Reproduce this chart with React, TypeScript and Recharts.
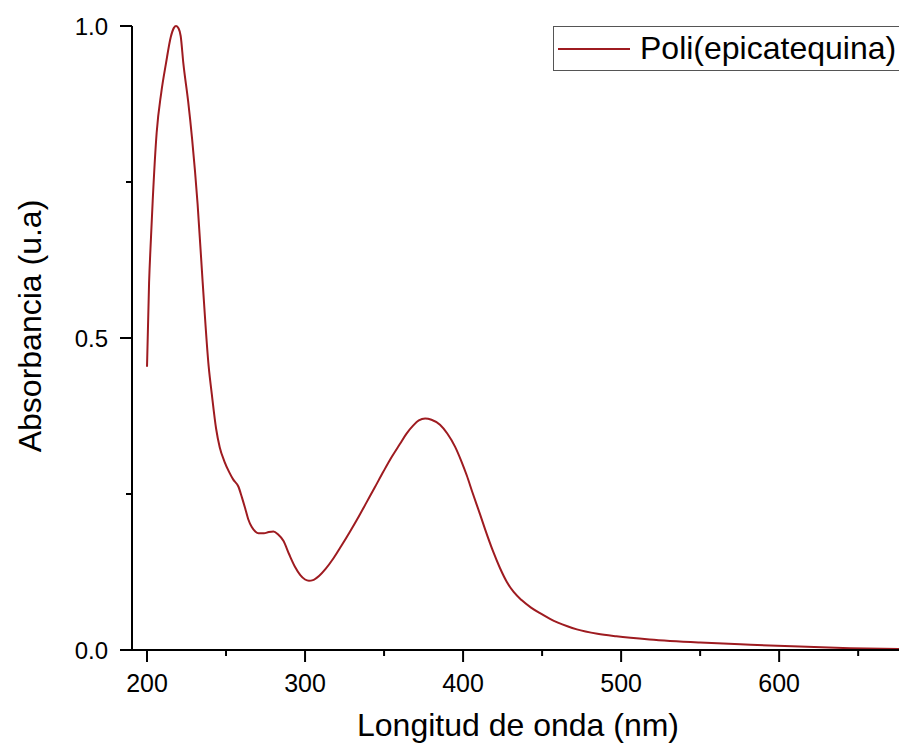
import { LineChart, Line, XAxis, YAxis } from "recharts";

// UV-Vis spectrum
const wavelength = [
  200, 201.3, 202.5, 203.6, 206.1, 209, 212, 215, 217, 218.4, 220, 221.3, 223, 226,
  228.5, 232, 235.2, 239, 241, 243.7, 246, 249, 252, 254.6, 257.8, 260, 262, 264,
  266.3, 268.5, 270.5, 274, 277, 280, 283, 286.3, 290, 293.7, 297, 300, 302.5,
  305, 309, 313, 318, 323, 328.5, 334, 339, 344, 349.6, 355, 360, 364, 368.5, 372,
  376, 380, 385.4, 390, 394.9, 399, 402.3, 406, 410.8, 414, 419, 423.4, 427.7,
  432, 437, 443, 448.7, 455, 460, 466, 472, 485, 497, 518, 550, 582, 613, 645, 676,
];
const absorbance = [
  0.454, 0.588, 0.66, 0.72, 0.829, 0.893, 0.94, 0.982, 0.997, 1.0, 0.996, 0.984,
  0.94, 0.88, 0.82, 0.715, 0.59, 0.455, 0.41, 0.355, 0.325, 0.302, 0.285, 0.273,
  0.262, 0.245, 0.228, 0.21, 0.197, 0.19, 0.187, 0.187, 0.189, 0.19, 0.185,
  0.175, 0.153, 0.133, 0.12, 0.113, 0.111, 0.112, 0.119, 0.13, 0.147, 0.167,
  0.19, 0.214, 0.237, 0.26, 0.286, 0.31, 0.33, 0.346, 0.36, 0.368, 0.371, 0.369,
  0.361, 0.347, 0.326, 0.302, 0.28, 0.252, 0.217, 0.193, 0.158, 0.131, 0.109,
  0.093, 0.08, 0.068, 0.059, 0.05, 0.044, 0.038, 0.033, 0.026, 0.022, 0.017,
  0.012, 0.0085, 0.0055, 0.003, 0.0015,
];

const xTicks = [200, 250, 300, 350, 400, 450, 500, 550, 600, 650];
const yTicks = [0, 0.25, 0.5, 0.75, 1];

const seriesName = "Poli(epicatequina)";
const lineColor = "#9e1b20";
const font = "'Liberation Sans', Arial, sans-serif";

const data = wavelength.map((wl, i) => ({ wl, abs: absorbance[i] }));

function XTick({ x, y, payload }: any) {
  const major = payload.value % 100 === 0;
  return (
    <g>
      <line x1={x} x2={x} y1={y} y2={y + (major ? 12 : 6)} stroke="#000" strokeWidth={2} />
      {major && (
        <text x={x} y={y + 42} textAnchor="middle" fontSize={25} fontFamily={font} fill="#000">
          {payload.value}
        </text>
      )}
    </g>
  );
}

function YTick({ x, y, payload }: any) {
  const major = Math.abs((payload.value * 2) % 1) < 1e-6;
  return (
    <g>
      <line x1={x - (major ? 12 : 6)} x2={x} y1={y} y2={y} stroke="#000" strokeWidth={2} />
      {major && (
        <text x={x - 24} y={y + 8.5} textAnchor="end" fontSize={24} fontFamily={font} fill="#000">
          {payload.value.toFixed(1)}
        </text>
      )}
    </g>
  );
}

export default function App() {
  return (
    <div
      style={{
        position: "absolute",
        left: 0,
        top: 0,
        width: 899,
        height: 749,
        overflow: "hidden",
        background: "#fff",
        fontFamily: font,
      }}
    >
      <LineChart
        width={904}
        height={749}
        data={data}
        margin={{ top: 26, right: 0, left: 0, bottom: 0 }}
      >
        <XAxis
          type="number"
          dataKey="wl"
          domain={[190.5, 679]}
          allowDataOverflow
          ticks={xTicks}
          interval={0}
          height={99}
          tickSize={0}
          tickMargin={0}
          tickLine={false}
          axisLine={{ stroke: "#000", strokeWidth: 2 }}
          tick={XTick}
        />
        <YAxis
          type="number"
          domain={[0, 1]}
          ticks={yTicks}
          interval={0}
          width={132}
          tickSize={0}
          tickMargin={0}
          tickLine={false}
          axisLine={{ stroke: "#000", strokeWidth: 2 }}
          tick={YTick}
        />
        <Line
          type="monotone"
          dataKey="abs"
          name={seriesName}
          stroke={lineColor}
          strokeWidth={2}
          dot={false}
          isAnimationActive={false}
        />
      </LineChart>

      {/* axis titles */}
      <div
        style={{
          position: "absolute",
          left: 132,
          width: 772,
          top: 705,
          textAlign: "center",
          fontSize: 32,
          lineHeight: "40px",
          color: "#000",
          whiteSpace: "nowrap",
        }}
      >
        Longitud de onda (nm)
      </div>
      <svg style={{ position: "absolute", left: 0, top: 0 }} width={60} height={700}>
        <text
          x={30}
          y={326}
          transform="rotate(-90 30 326)"
          textAnchor="middle"
          dominantBaseline="central"
          fontSize={32}
          fontFamily={font}
          fill="#000"
        >
          Absorbancia (u.a)
        </text>
      </svg>

      {/* legend box */}
      <div
        style={{
          position: "absolute",
          left: 553,
          top: 26,
          width: 370,
          height: 45,
          border: "1.5px solid #555",
          boxSizing: "border-box",
          display: "flex",
          alignItems: "center",
          whiteSpace: "nowrap",
        }}
      >
        <svg width={80} height={20} style={{ marginLeft: 4 }}>
          <line x1={0} x2={72} y1={10} y2={10} stroke={lineColor} strokeWidth={2} />
        </svg>
        <span style={{ fontSize: 32, color: "#000", marginLeft: 2 }}>{seriesName}</span>
      </div>
    </div>
  );
}
